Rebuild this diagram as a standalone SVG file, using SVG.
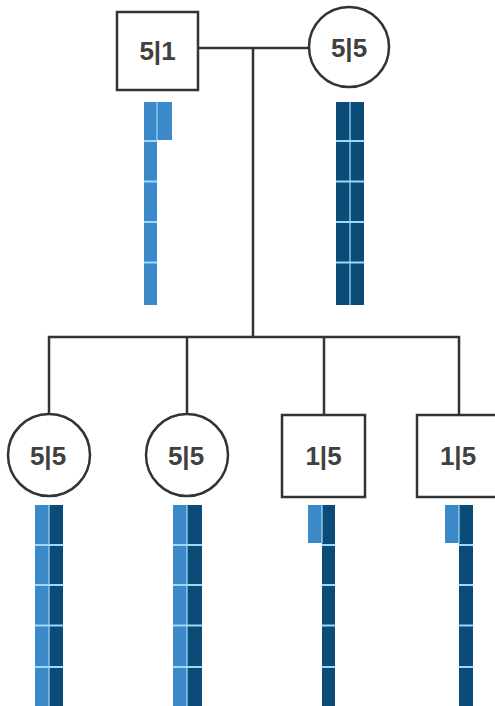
<svg xmlns="http://www.w3.org/2000/svg" width="495" height="706" viewBox="0 0 495 706">
  <style>
    .line { stroke: #333; stroke-width: 2.5; fill: none; }
    .shape { stroke: #333; stroke-width: 2.5; fill: #fff; }
    .label { font-family: "Liberation Sans", Arial, sans-serif; font-size: 26px; font-weight: bold; fill: #404040; text-anchor: middle; dominant-baseline: central; }
    .mid { fill: #3b89c9; }
    .dark { fill: #0b4b77; }
    .sep { stroke: #9fd8f8; stroke-width: 2; }
    .vsep { stroke: #8fcdf2; stroke-width: 1.4; }
  </style>
  <rect width="495" height="706" fill="#fff"/>

  <!-- pedigree connectors -->
  <g id="connectors">
    <line class="line" x1="198" y1="48" x2="310" y2="48"/>
    <line class="line" x1="253" y1="48" x2="253" y2="337"/>
    <polyline class="line" points="49,415 49,337 459,337 459,415"/>
    <line class="line" x1="187" y1="337" x2="187" y2="415"/>
    <line class="line" x1="324" y1="337" x2="324" y2="415"/>
  </g>

  <!-- parents -->
  <g id="father">
    <rect class="shape" x="117" y="12" width="81" height="78"/>
    <text class="label" x="157.5" y="51">5|1</text>
    <rect class="mid" x="144" y="102" width="13" height="203"/>
    <rect class="mid" x="157" y="102" width="15" height="38"/>
    <line class="vsep" x1="157" y1="102" x2="157" y2="140"/>
    <g class="sep">
      <line x1="144" y1="141" x2="157" y2="141"/>
      <line x1="144" y1="181.5" x2="157" y2="181.5"/>
      <line x1="144" y1="222" x2="157" y2="222"/>
      <line x1="144" y1="262.5" x2="157" y2="262.5"/>
    </g>
  </g>

  <g id="mother">
    <circle class="shape" cx="349" cy="47" r="40"/>
    <text class="label" x="349" y="48">5|5</text>
    <rect class="dark" x="336" y="102" width="28" height="203"/>
    <line class="vsep" x1="350" y1="102" x2="350" y2="305"/>
    <g class="sep">
      <line x1="336" y1="141" x2="364" y2="141"/>
      <line x1="336" y1="181.5" x2="364" y2="181.5"/>
      <line x1="336" y1="222" x2="364" y2="222"/>
      <line x1="336" y1="262.5" x2="364" y2="262.5"/>
    </g>
  </g>

  <!-- children -->
  <g id="child1">
    <circle class="shape" cx="49" cy="455" r="41"/>
    <text class="label" x="48" y="456">5|5</text>
    <rect class="mid" x="35" y="505" width="14" height="201"/>
    <rect class="dark" x="49" y="505" width="14" height="201"/>
    <line class="vsep" x1="49" y1="505" x2="49" y2="706"/>
    <g class="sep">
      <line x1="35" y1="545" x2="63" y2="545"/>
      <line x1="35" y1="585" x2="63" y2="585"/>
      <line x1="35" y1="625.5" x2="63" y2="625.5"/>
      <line x1="35" y1="667" x2="63" y2="667"/>
    </g>
  </g>

  <g id="child2">
    <circle class="shape" cx="187" cy="455" r="41"/>
    <text class="label" x="186" y="456">5|5</text>
    <rect class="mid" x="173" y="505" width="14" height="201"/>
    <rect class="dark" x="187" y="505" width="15" height="201"/>
    <line class="vsep" x1="187" y1="505" x2="187" y2="706"/>
    <g class="sep">
      <line x1="173" y1="545" x2="202" y2="545"/>
      <line x1="173" y1="585" x2="202" y2="585"/>
      <line x1="173" y1="625.5" x2="202" y2="625.5"/>
      <line x1="173" y1="667" x2="202" y2="667"/>
    </g>
  </g>

  <g id="child3">
    <rect class="shape" x="282" y="415" width="83" height="82"/>
    <text class="label" x="323.5" y="456">1|5</text>
    <rect class="mid" x="308" y="505" width="14" height="38"/>
    <rect class="dark" x="322" y="505" width="13" height="201"/>
    <line class="vsep" x1="322" y1="505" x2="322" y2="543"/>
    <g class="sep">
      <line x1="322" y1="545" x2="335" y2="545"/>
      <line x1="322" y1="585" x2="335" y2="585"/>
      <line x1="322" y1="625.5" x2="335" y2="625.5"/>
      <line x1="322" y1="667" x2="335" y2="667"/>
    </g>
  </g>

  <g id="child4">
    <rect class="shape" x="417" y="415" width="82" height="82"/>
    <text class="label" x="458" y="456">1|5</text>
    <rect class="mid" x="445" y="505" width="14" height="38"/>
    <rect class="dark" x="459" y="505" width="14" height="201"/>
    <line class="vsep" x1="459" y1="505" x2="459" y2="543"/>
    <g class="sep">
      <line x1="459" y1="545" x2="473" y2="545"/>
      <line x1="459" y1="585" x2="473" y2="585"/>
      <line x1="459" y1="625.5" x2="473" y2="625.5"/>
      <line x1="459" y1="667" x2="473" y2="667"/>
    </g>
  </g>
</svg>
